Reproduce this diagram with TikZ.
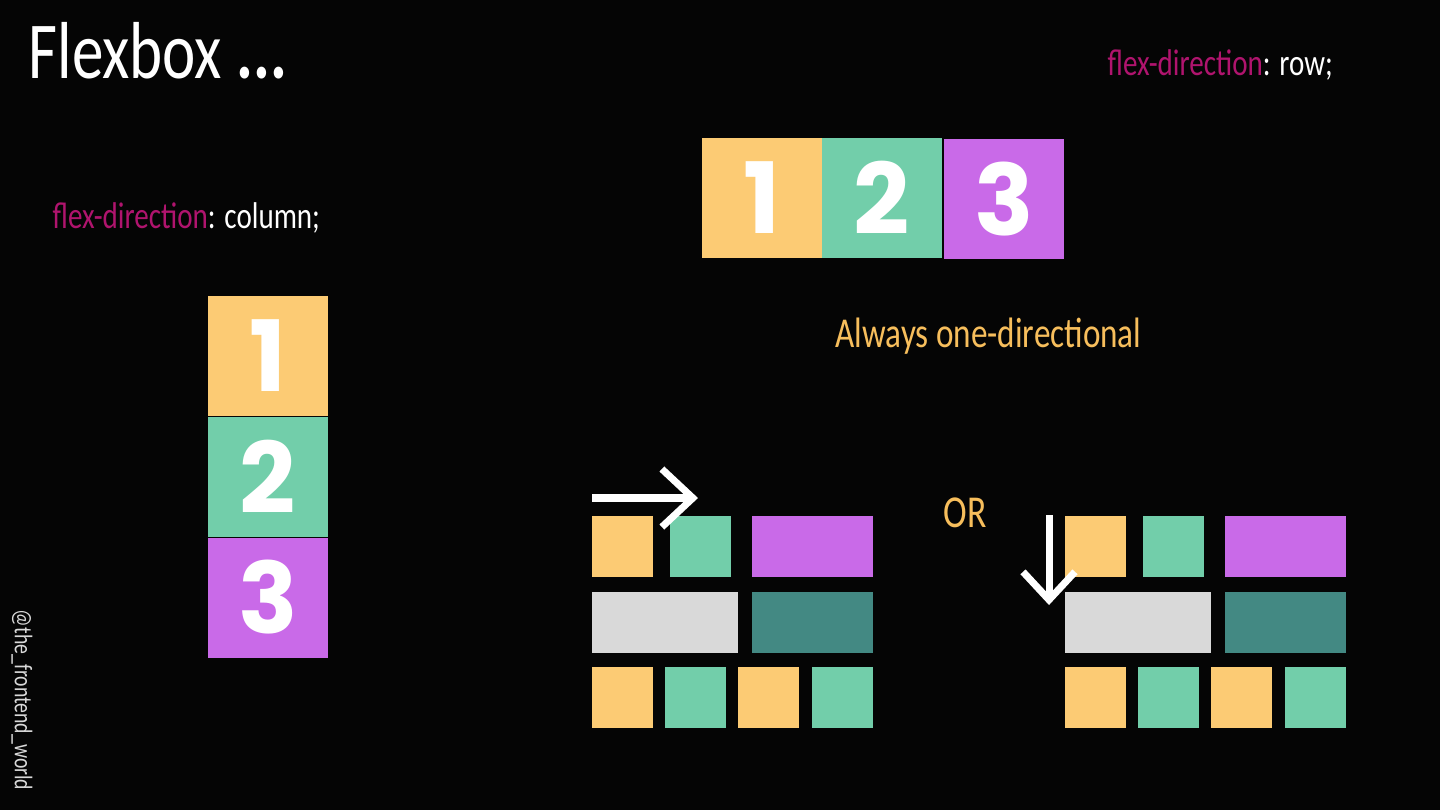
\documentclass[tikz,border=0pt]{standalone}
\usepackage{fontspec}
\setmainfont{Carlito}
\newfontfamily\handfont{Carlito}[FakeStretch=0.78]
\newfontfamily\digitfont{Poppins}
\usetikzlibrary{arrows.meta}
\definecolor{bgblack}{RGB}{5,5,5}
\definecolor{flexyellow}{RGB}{252,203,116}
\definecolor{flexgreen}{RGB}{114,206,170}
\definecolor{flexpurple}{RGB}{201,106,232}
\definecolor{flexgrey}{RGB}{217,217,217}
\definecolor{flexteal}{RGB}{67,137,131}
\definecolor{propmagenta}{RGB}{176,20,110}
\definecolor{noteorange}{RGB}{247,190,92}
\begin{document}
\begin{tikzpicture}[x=0.1mm, y=-0.1mm,
    box/.style={inner sep=0pt, minimum width=12mm, minimum height=12mm,
      text=white, font=\digitfont\bfseries\fontsize{28}{28}\selectfont},
    tile/.style={inner sep=0pt, minimum height=6.1mm},
    hand/.style={inner sep=0pt, anchor=base west},
    flowarrow/.style={white, line width=2pt}]
    % Hintergrund
    \fill[bgblack] (0,0) rectangle (1440,810);
    \useasboundingbox (0,0) rectangle (1440,810);
    % Titel
    \node[hand, text=white, font=\handfont\fontsize{23}{26}\selectfont] (title) at (28,78) {Flexbox \textbf{...}};
    % Eigenschaften
    \node[hand, font=\handfont\fontsize{10.6}{12}\selectfont] (rowprop) at (1107,75)
        {\textcolor{propmagenta}{flex-direction}\textcolor{white}{: row;}};
    \node[hand, font=\handfont\fontsize{10.6}{12}\selectfont] (colprop) at (52,228)
        {\textcolor{propmagenta}{flex-direction}\textcolor{white}{: column;}};
    % Zeile
    \node[box, fill=flexyellow] (r1) at (762,198) {1};
    \node[box, fill=flexgreen] (r2) at (882,198) {2};
    \node[box, fill=flexpurple] (r3) at (1004,199) {3};
    % Spalte
    \node[box, fill=flexyellow] (c1) at (268,356) {1};
    \node[box, fill=flexgreen] (c2) at (268,476.5) {2};
    \node[box, fill=flexpurple] (c3) at (268,597.5) {3};
    % Hinweis
    \node[hand, text=noteorange, font=\handfont\fontsize{12.1}{14}\selectfont] (note) at (835,347) {Always one-directional};
    \node[hand, text=noteorange, font=\handfont\fontsize{13}{14}\selectfont] (or) at (943,527) {OR};
    % Raster
    \foreach \dx/\g in {0/l, 473/r} {
        \node[tile, fill=flexyellow, minimum width=6.1mm] (\g a1) at (622.5+\dx,546.5) {};
        \node[tile, fill=flexgreen, minimum width=6.1mm] (\g a2) at (700.5+\dx,546.5) {};
        \node[tile, fill=flexpurple, minimum width=12.1mm] (\g a3) at (812.5+\dx,546.5) {};
        \node[tile, fill=flexgrey, minimum width=14.6mm] (\g b1) at (665+\dx,622.5) {};
        \node[tile, fill=flexteal, minimum width=12.1mm] (\g b2) at (812.5+\dx,622.5) {};
        \node[tile, fill=flexyellow, minimum width=6.1mm] (\g c1) at (622.5+\dx,697.5) {};
        \node[tile, fill=flexgreen, minimum width=6.1mm] (\g c2) at (695.5+\dx,697.5) {};
        \node[tile, fill=flexyellow, minimum width=6.1mm] (\g c3) at (768.5+\dx,697.5) {};
        \node[tile, fill=flexgreen, minimum width=6.1mm] (\g c4) at (842.5+\dx,697.5) {};
    }
    % Richtungspfeile
    \coordinate (hstart) at (592,498);
    \coordinate (hend) at (698,498);
    \coordinate (vstart) at (1049,515);
    \coordinate (vend) at (1049,605);
    \draw[flowarrow, -{Straight Barb[length=3.1mm, width=5.8mm]}] (hstart) -- (hend);
    \draw[flowarrow, -{Straight Barb[length=2.8mm, width=5.2mm]}] (vstart) -- (vend);
    % Signatur
    \node[rotate=-90, text=flexgrey, font=\handfont\fontsize{7.2}{8}\selectfont] (sig) at (22,700) {@the\_frontend\_world};
\end{tikzpicture}
\end{document}
